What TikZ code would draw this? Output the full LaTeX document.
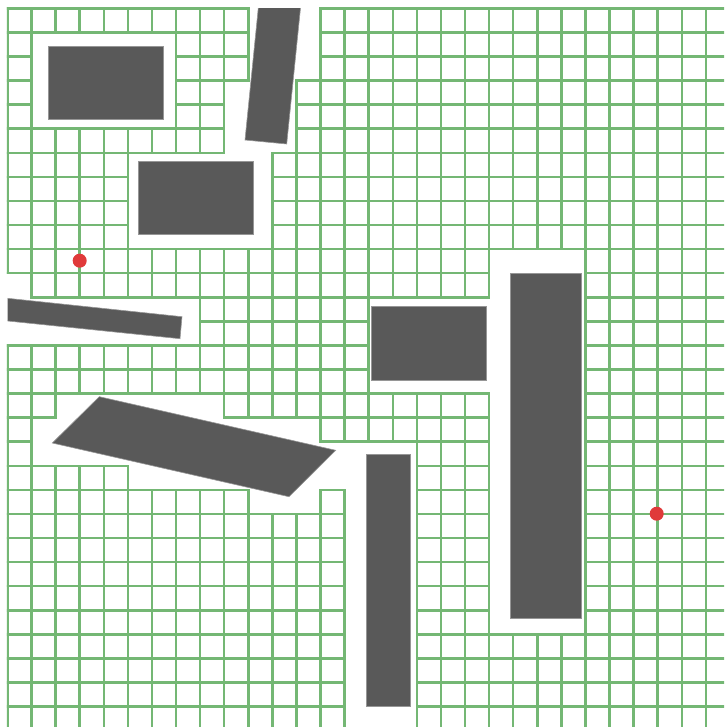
\documentclass[tikz,border=0pt]{standalone}
\begin{document}
\begin{tikzpicture}[x=0.5pt,y=-0.5pt]
\definecolor{gridg}{RGB}{116,183,116}
\definecolor{obst}{RGB}{89,89,89}
\definecolor{obstedge}{RGB}{150,150,150}
\definecolor{dotred}{RGB}{224,58,58}
\tikzset{
  gridline/.style={draw=gridg, line width=1.25pt, line cap=rect},
  obstacle/.style={fill=obst, draw=obstedge, line width=0.3pt},
  marker/.style={fill=dotred, draw=none}
}
\useasboundingbox (0,0) rectangle (724,727);
\begin{scope}
\clip (6.8,7.6) rectangle (724,727);
% roadmap grid
\begin{scope}[shift={(3.75pt,-4.15pt)}, x=12.04pt, y=-12.04pt]
\foreach \j/\a/\b in {0/0/10, 0/13/30,
  1/0/10, 1/13/30,
  2/0/1, 2/7/10, 2/13/30,
  3/0/1, 3/7/10, 3/12/30,
  4/0/1, 4/7/9, 4/12/30,
  5/0/9, 5/12/30,
  6/0/9, 6/11/30,
  7/0/5, 7/11/30,
  8/0/5, 8/11/30,
  9/0/5, 9/11/30,
  10/0/30,
  11/0/20, 11/24/30,
  12/1/20, 12/24/30,
  13/8/15, 13/24/30,
  14/0/15, 14/24/30,
  15/0/15, 15/24/30,
  16/0/20, 16/24/30,
  17/0/2, 17/9/20, 17/24/30,
  18/0/1, 18/13/20, 18/24/30,
  19/0/5, 19/17/20, 19/24/30,
  20/0/10, 20/13/14, 20/17/20, 20/24/30,
  21/0/14, 21/17/20, 21/24/30,
  22/0/14, 22/17/20, 22/24/30,
  23/0/14, 23/17/20, 23/24/30,
  24/0/14, 24/17/20, 24/24/30,
  25/0/14, 25/17/20, 25/24/30,
  26/0/14, 26/17/30,
  27/0/14, 27/17/30,
  28/0/14, 28/17/30,
  29/0/14, 29/17/30}
  \draw[gridline] (\a,\j) -- (\b,\j);
\foreach \i/\a/\b in {0/0/11, 0/14/30,
  1/0/12, 1/14/30,
  2/0/1, 2/5/12, 2/14/17, 2/19/30,
  3/0/1, 3/5/12, 3/14/16, 3/19/30,
  4/0/1, 4/5/12, 4/14/16, 4/19/30,
  5/0/1, 5/5/12, 5/14/16, 5/19/30,
  6/0/1, 6/5/6, 6/10/12, 6/14/16, 6/20/30,
  7/0/6, 7/10/12, 7/14/16, 7/20/30,
  8/0/6, 8/10/16, 8/20/30,
  9/0/6, 9/10/17, 9/20/30,
  10/0/3, 10/10/17, 10/20/30,
  11/6/17, 11/21/30,
  12/3/17, 12/21/30,
  13/0/18, 13/20/30,
  14/0/18, 14/20/30,
  15/0/18,
  16/0/12, 16/16/18,
  17/0/12, 17/16/30,
  18/0/12, 18/16/30,
  19/0/12, 19/16/30,
  20/0/12, 20/16/30,
  21/0/10, 21/26/30,
  22/0/10, 22/26/30,
  23/0/10, 23/26/30,
  24/0/30, 25/0/30, 26/0/30, 27/0/30, 28/0/30, 29/0/30}
  \draw[gridline] (\i,\a) -- (\i,\b);
\end{scope}
% obstacles
\begin{scope}
\clip (7.5,8.3) rectangle (724,727);
\path[obstacle] (48.3,46) rectangle (163.3,119.3);
\path[obstacle] (259.6,-5) -- (301.4,-1) -- (286.7,144) -- (245,140) -- cycle;
\path[obstacle] (138.3,161.7) rectangle (253.3,234.3);
\path[obstacle] (0,297.5) -- (182,316.7) -- (180,338.7) -- (0,320.2) -- cycle;
\path[obstacle] (99.3,396.7) -- (335.7,450.3) -- (289,496.7) -- (52.3,443) -- cycle;
\path[obstacle] (371.7,306.7) rectangle (486.7,380);
\path[obstacle] (510,273.3) rectangle (581,618.3);
\path[obstacle] (366,454) rectangle (410.3,706.7);
\end{scope}
\end{scope}
% start and goal
\path[marker] (79.7,260.7) circle[radius=3.5pt];
\path[marker] (656.7,513.7) circle[radius=3.5pt];
\end{tikzpicture}
\end{document}
